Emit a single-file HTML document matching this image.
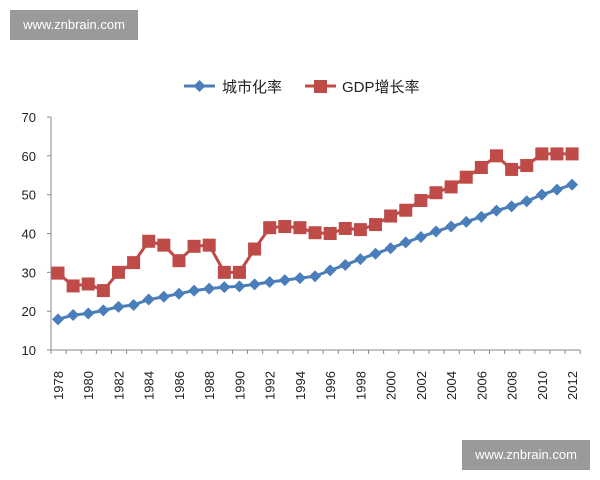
<!DOCTYPE html>
<html><head><meta charset="utf-8"><style>
body{margin:0;background:#fff;}
.wm{position:absolute;background:#9a9a9a;color:#fff;font:13px "Liberation Sans",sans-serif;text-align:center;line-height:30px;width:128px;height:30px;}
</style></head><body>
<div style="position:relative;width:600px;height:480px;overflow:hidden;">
<svg id="c" width="600" height="480" style="position:absolute;left:0;top:0" font-family="Liberation Sans, Noto Sans CJK SC, sans-serif"></svg>
<div class="wm" style="left:10px;top:10px;">www.znbrain.com</div>
<div class="wm" style="left:462px;top:440px;">www.znbrain.com</div>
</div>
<script>
var s=document.getElementById('c'),h='';
function Y(v){return 350-(v-10)*233/60;}
function X(i){return 58+i*15.12;}
h+='<line x1="51" y1="117" x2="51" y2="350" stroke="#888"/>';
h+='<line x1="51" y1="350" x2="580" y2="350" stroke="#888"/>';
for(var v=10;v<=70;v+=10){var y=Y(v);h+='<line x1="47" y1="'+y+'" x2="51" y2="'+y+'" stroke="#888"/><text x="36" y="'+(y+5)+'" font-size="13" text-anchor="end" fill="#222">'+v+'</text>';}
for(var i=0;i<=35;i++){var x=51+i*15.12;h+='<line x1="'+x+'" y1="350" x2="'+x+'" y2="354" stroke="#888"/>';}
for(var i=0;i<35;i+=2){var x=X(i)+5;h+='<text transform="translate('+x+',400) rotate(-90)" font-size="13" fill="#222">'+(1978+i)+'</text>';}
var b=[17.9,19,19.4,20.2,21.1,21.6,23,23.7,24.5,25.3,25.8,26.2,26.4,26.9,27.5,28,28.5,29,30.5,31.9,33.4,34.8,36.2,37.7,39.1,40.5,41.8,43,44.3,45.9,47,48.3,50,51.3,52.6];
var r=[29.8,26.5,27,25.3,30,32.5,38,37,33,36.7,37,30,30,36,41.5,41.8,41.5,40.2,40,41.3,41,42.3,44.5,46,48.5,50.5,52,54.5,57,60,56.5,57.5,60.5,60.5,60.5];
function pts(a){return a.map(function(v,i){return X(i)+','+Y(v)}).join(' ');}
h+='<polyline points="'+pts(r)+'" fill="none" stroke="#be4b48" stroke-width="3"/>';
r.forEach(function(v,i){h+='<rect x="'+(X(i)-6.5)+'" y="'+(Y(v)-6.5)+'" width="13" height="13" fill="#be4b48"/>';});
h+='<polyline points="'+pts(b)+'" fill="none" stroke="#4a7ebb" stroke-width="3"/>';
b.forEach(function(v,i){var x=X(i),y=Y(v);h+='<polygon points="'+x+','+(y-6)+' '+(x+6)+','+y+' '+x+','+(y+6)+' '+(x-6)+','+y+'" fill="#4a7ebb"/>';});
h+='<line x1="184" y1="86" x2="215" y2="86" stroke="#4a7ebb" stroke-width="3"/><polygon points="199.5,80 205.5,86 199.5,92 193.5,86" fill="#4a7ebb"/>';
h+='<text x="222" y="92" font-size="15" fill="#222">城市化率</text>';
h+='<line x1="305" y1="86" x2="336" y2="86" stroke="#be4b48" stroke-width="3"/><rect x="314" y="80" width="13" height="13" fill="#be4b48"/>';
h+='<text x="342" y="92" font-size="15" fill="#222">GDP增长率</text>';
s.innerHTML=h;
</script>
</body></html>
